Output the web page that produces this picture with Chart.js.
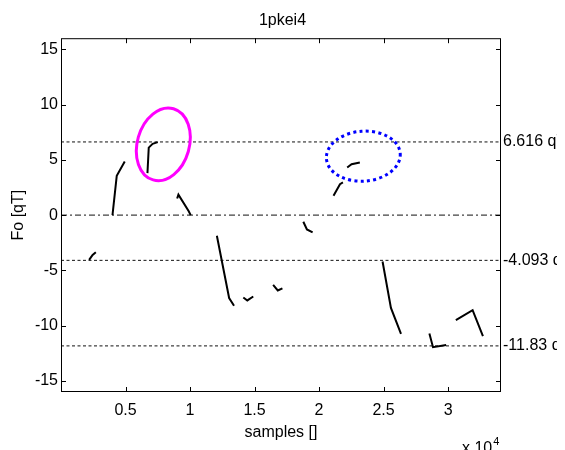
<!DOCTYPE html>
<html>
<head>
<meta charset="utf-8">
<script src="https://cdn.jsdelivr.net/npm/chart.js@4.4.1/dist/chart.umd.min.js"></script>
<style>
  html, body { margin: 0; padding: 0; background: #fff; }
  #chart { display: block; }
</style>
</head>
<body>
<canvas id="chart" width="565" height="450"></canvas>
<script>
// tick values
var xTicks = [5000, 10000, 15000, 20000, 25000, 30000];
var yTicks = [-15, -10, -5, 0, 5, 10, 15];

// threshold levels shown on the right, plus the zero line
var levelValues = [6.616, -4.093, -11.83];
var zeroLevel = 0;

// Fo trace pieces (samples, qT)
var segX = [
    [2180, 2450, 2700],
    [3990, 4320, 4940],
    [6700, 6800, 7100, 7500],
    [9000, 9100, 9900, 10050],
    [12080, 13030, 13410],
    [14130, 14440, 14900],
    [16440, 16800, 17160],
    [18780, 19060, 19500],
    [21120, 21620, 21850],
    [22180, 22520, 23160],
    [24920, 25570, 26350],
    [28550, 28830, 29850],
    [30600, 31900, 32700]
];
var segY = [
    [-4.05, -3.6, -3.35],
    [0, 3.55, 4.85],
    [3.8, 6.1, 6.45, 6.6],
    [1.5, 1.85, 0.35, 0],
    [-1.87, -7.5, -8.2],
    [-7.45, -7.72, -7.36],
    [-6.32, -6.82, -6.62],
    [-0.6, -1.3, -1.57],
    [1.75, 2.8, 2.95],
    [4.3, 4.6, 4.76],
    [-4.2, -8.4, -10.75],
    [-10.7, -11.95, -11.75],
    [-9.5, -8.6, -10.95]
];

var xMin = 0, xMax = 34100;
var yMin = -16, yMax = 16;

// hand-drawn marks on the scan (centre in data units)
var marks = [
    {x: 7930, y: 6.4, rx: 26, ry: 37, rot: 16, color: '#ff00ff', dash: []},
    {x: 23430, y: 5.33, rx: 37, ry: 25, rot: -4, color: '#0000ff', dash: [3, 3.3]}
];

var FONT = "'Liberation Sans', Arial, Helvetica, sans-serif";

var datasets = [];
for (var i = 0; i < segX.length; i++) {
    datasets.push({
        data: segX[i].map(function (x, j) { return {x: x, y: segY[i][j]}; }),
        borderColor: '#000',
        borderWidth: 2,
        pointRadius: 0,
        tension: 0,
        fill: false
    });
}
levelValues.forEach(function (v) {
    datasets.push({
        data: [{x: xMin, y: v}, {x: xMax, y: v}],
        borderColor: '#111',
        borderWidth: 1,
        borderDash: [3, 2.5],
        pointRadius: 0
    });
});
datasets.push({
    data: [{x: xMin, y: zeroLevel}, {x: xMax, y: zeroLevel}],
    borderColor: '#111',
    borderWidth: 1,
    borderDash: [6, 3, 2, 3],
    pointRadius: 0
});

// box, inward ticks, ellipses, exponent label
var framePlugin = {
    id: 'frame',
    afterDraw: function (chart) {
        var ctx = chart.ctx;
        var a = chart.chartArea;
        var xs = chart.scales.x, ys = chart.scales.y;
        ctx.save();
        // the scan is cropped just past the right-hand labels
        ctx.fillStyle = '#fff';
        ctx.fillRect(557, 0, chart.width - 557, chart.height);

        ctx.strokeStyle = '#000';
        ctx.lineWidth = 1;
        ctx.setLineDash([]);
        ctx.strokeRect(a.left + 0.5, a.top + 0.5, a.right - a.left - 1, a.bottom - a.top - 1);
        ctx.beginPath();
        xTicks.forEach(function (v) {
            var px = Math.round(xs.getPixelForValue(v)) + 0.5;
            ctx.moveTo(px, a.bottom); ctx.lineTo(px, a.bottom - 5);
            ctx.moveTo(px, a.top); ctx.lineTo(px, a.top + 5);
        });
        yTicks.forEach(function (v) {
            var py = Math.round(ys.getPixelForValue(v)) + 0.5;
            ctx.moveTo(a.left, py); ctx.lineTo(a.left + 5, py);
            ctx.moveTo(a.right, py); ctx.lineTo(a.right - 5, py);
        });
        ctx.stroke();

        marks.forEach(function (m) {
            ctx.beginPath();
            ctx.ellipse(xs.getPixelForValue(m.x), ys.getPixelForValue(m.y), m.rx, m.ry,
                m.rot * Math.PI / 180, 0, Math.PI * 2);
            ctx.strokeStyle = m.color;
            ctx.lineWidth = 3;
            ctx.setLineDash(m.dash);
            ctx.stroke();
        });

        ctx.setLineDash([]);
        ctx.fillStyle = '#000';
        ctx.textBaseline = 'alphabetic';
        ctx.textAlign = 'left';
        ctx.font = '16px ' + FONT;
        var bx = a.right - 39;
        ctx.fillText('x 10', bx, 453);
        var w = ctx.measureText('x 10').width;
        ctx.font = '11px ' + FONT;
        ctx.fillText('4', bx + w + 1, 445);
        ctx.restore();
    }
};

var ctx = document.getElementById('chart').getContext('2d');
var chart = new Chart(ctx, {
    type: 'line',
    data: {datasets: datasets},
    options: {
        responsive: false,
        animation: false,
        layout: {padding: 0},
        plugins: {
            legend: {display: false},
            tooltip: {enabled: false},
            title: {
                display: true,
                text: '1pkei4',
                color: '#000',
                font: {family: FONT, size: 16, weight: 'normal'},
                padding: {top: 11, bottom: 8}
            }
        },
        scales: {
            x: {
                type: 'linear',
                min: xMin,
                max: xMax,
                afterBuildTicks: function (s) { s.ticks = xTicks.map(function (v) { return {value: v}; }); },
                afterFit: function (s) { s.height = 58; },
                grid: {display: false, drawTicks: false},
                border: {display: false},
                ticks: {
                    color: '#000',
                    padding: 9,
                    maxRotation: 0,
                    font: {family: FONT, size: 16},
                    callback: function (v) { return String(v / 10000); }
                },
                title: {
                    display: true,
                    text: 'samples []',
                    color: '#000',
                    font: {family: FONT, size: 16},
                    padding: {top: 0, bottom: 8}
                }
            },
            y: {
                position: 'left',
                min: yMin,
                max: yMax,
                afterBuildTicks: function (s) { s.ticks = yTicks.map(function (v) { return {value: v}; }); },
                afterFit: function (s) { s.width = 61; },
                grid: {display: false, drawTicks: false},
                border: {display: false},
                ticks: {color: '#000', padding: 3, font: {family: FONT, size: 16}},
                title: {
                    display: true,
                    text: 'Fo [qT]',
                    color: '#000',
                    font: {family: FONT, size: 16},
                    padding: {top: 9, bottom: 0}
                }
            },
            y2: {
                position: 'right',
                min: yMin,
                max: yMax,
                afterBuildTicks: function (s) { s.ticks = levelValues.map(function (v) { return {value: v}; }); },
                afterFit: function (s) { s.width = 64; },
                grid: {display: false, drawTicks: false},
                border: {display: false},
                ticks: {
                    color: '#000',
                    padding: 2,
                    font: {family: FONT, size: 16},
                    callback: function (v) { return v + ' qT'; }
                }
            }
        }
    },
    plugins: [framePlugin]
});
</script>
</body>
</html>
